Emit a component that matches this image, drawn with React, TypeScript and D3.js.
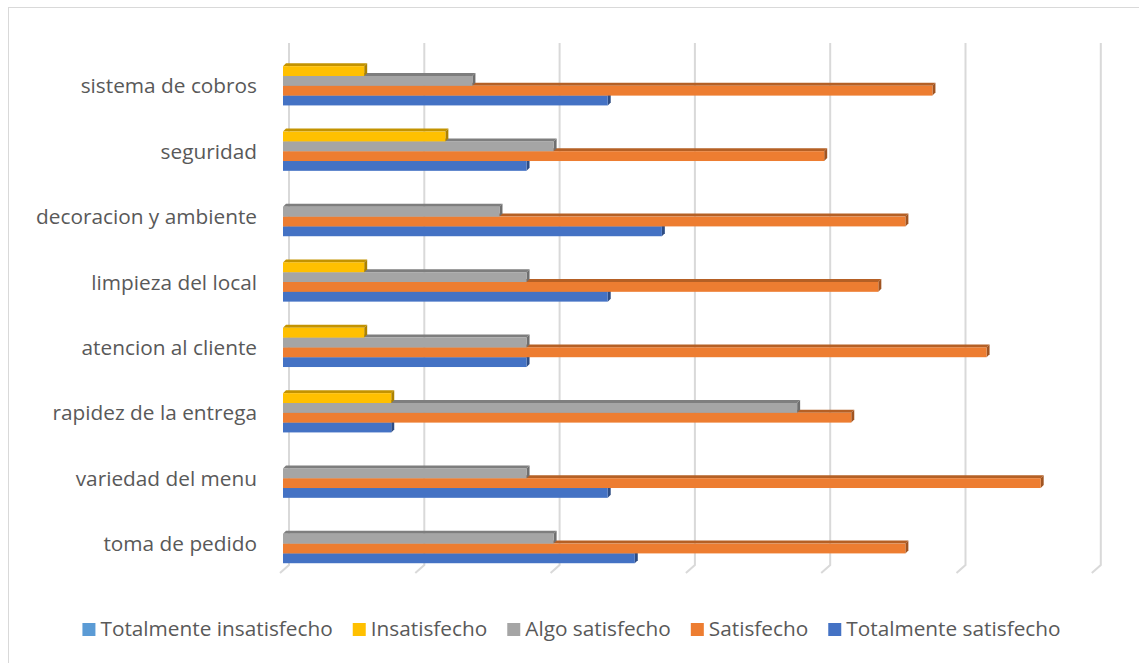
import { useEffect, useRef } from 'react';
import * as d3 from 'd3';

const categories = [
  'toma de pedido', 'variedad del menu', 'rapidez de la entrega', 'atencion al cliente',
  'limpieza del local', 'decoracion y ambiente', 'seguridad', 'sistema de cobros',
];
const seriesNames = ['Totalmente insatisfecho', 'Insatisfecho', 'Algo satisfecho', 'Satisfecho', 'Totalmente satisfecho'];
const seriesColors = ['#5B9BD5', '#FFC000', '#A5A5A5', '#ED7D31', '#4472C4'];

const totInsatisfecho = [0, 0, 0, 0, 0, 0, 0, 0];
const insatisfecho    = [0, 0, 4, 3, 3, 0, 6, 3];
const algoSatisfecho  = [10, 9, 19, 9, 9, 8, 10, 7];
const satisfecho      = [23, 28, 21, 26, 22, 23, 20, 24];
const totSatisfecho   = [13, 12, 4, 9, 12, 14, 9, 12];
const seriesValues = [totInsatisfecho, insatisfecho, algoSatisfecho, satisfecho, totSatisfecho];

const gridTicks = [0, 5, 10, 15, 20, 25, 30];

const FONT = '"Open Sans", sans-serif';
const TEXT = '#595959';

export default function App() {
  const svgRef = useRef<SVGSVGElement>(null);

  useEffect(() => {
    document.body.style.margin = '0';
    if (!svgRef.current) return;
    const W = 1139, H = 663;
    const svg = d3.select(svgRef.current);
    svg.selectAll('*').remove();
    svg.attr('width', W).attr('height', H).style('display', 'block');

    svg.append('rect').attr('width', W).attr('height', H).attr('fill', '#fff');
    // chart border
    svg.append('rect')
      .attr('x', 8.5).attr('y', 7.5).attr('width', W).attr('height', H)
      .attr('fill', 'none').attr('stroke', '#d9d9d9').attr('stroke-width', 1);

    const x = d3.scaleLinear().domain([0, 30]).range([283, 1094.8]);
    const yCat = d3.scaleBand<string>()
      .domain([...categories].reverse())
      .range([48.2, 571.4])
      .paddingInner(0.25).paddingOuter(0.125);
    const ySer = d3.scaleBand<string>().domain(seriesNames).range([0, yCat.bandwidth()]);

    const DEPTH = 6, GRID_TOP = 43, GRID_BOT = 565;

    // vertical gridlines (back wall + floor edge)
    gridTicks.forEach(t => {
      const xb = x(t) + DEPTH;
      svg.append('path')
        .attr('d', `M${xb},${GRID_TOP}L${xb},${GRID_BOT}L${x(t) - 3},${GRID_BOT + 8}`)
        .attr('fill', 'none').attr('stroke', '#d9d9d9').attr('stroke-width', 2);
    });

    // bars, bottom series first so upper fronts hide lower tops
    const d = 3;
    categories.forEach((cat, ci) => {
      for (let si = seriesNames.length - 1; si >= 0; si--) {
        const v = seriesValues[si][ci];
        if (!v) continue;
        const y0 = (yCat(cat) ?? 0) + (ySer(seriesNames[si]) ?? 0);
        const h = ySer.bandwidth();
        const x0 = x(0), x1 = x(v);
        const base = d3.color(seriesColors[si])!;
        const g = svg.append('g');
        g.append('polygon')
          .attr('points', `${x0},${y0} ${x0 + d},${y0 - d} ${x1 + d},${y0 - d} ${x1},${y0}`)
          .attr('fill', base.darker(0.75).formatHex());
        g.append('polygon')
          .attr('points', `${x1},${y0} ${x1 + d},${y0 - d} ${x1 + d},${y0 + h - d} ${x1},${y0 + h}`)
          .attr('fill', base.darker(1.1).formatHex());
        g.append('rect')
          .attr('x', x0).attr('y', y0).attr('width', x1 - x0).attr('height', h)
          .attr('fill', seriesColors[si]);
      }
    });

    // category labels
    categories.forEach(cat => {
      svg.append('text')
        .attr('x', 257).attr('y', (yCat(cat) ?? 0) + yCat.bandwidth() / 2 + 12.5)
        .attr('text-anchor', 'end')
        .attr('font-family', FONT).attr('font-size', 20.8).attr('fill', TEXT)
        .text(cat);
    });

    // legend, laid out by measured text widths and centred
    const leg = svg.append('g');
    const SQ = 13, GAP_TXT = 5, GAP_ITEM = 20, LEG_Y = 636;
    const items = seriesNames.map((name, i) => {
      const t = leg.append('text')
        .attr('font-family', FONT).attr('font-size', 20.8).attr('fill', TEXT)
        .attr('y', LEG_Y).text(name);
      const w = (t.node() as SVGTextElement).getComputedTextLength();
      return { t, w, color: seriesColors[i] };
    });
    const total = items.reduce((s, it) => s + SQ + GAP_TXT + it.w, 0) + GAP_ITEM * (items.length - 1);
    let cx = 571.5 - total / 2;
    items.forEach(it => {
      leg.append('rect')
        .attr('x', cx).attr('y', LEG_Y - 13).attr('width', SQ).attr('height', SQ)
        .attr('fill', it.color);
      it.t.attr('x', cx + SQ + GAP_TXT);
      cx += SQ + GAP_TXT + it.w + GAP_ITEM;
    });
  }, []);

  return <svg ref={svgRef} />;
}
